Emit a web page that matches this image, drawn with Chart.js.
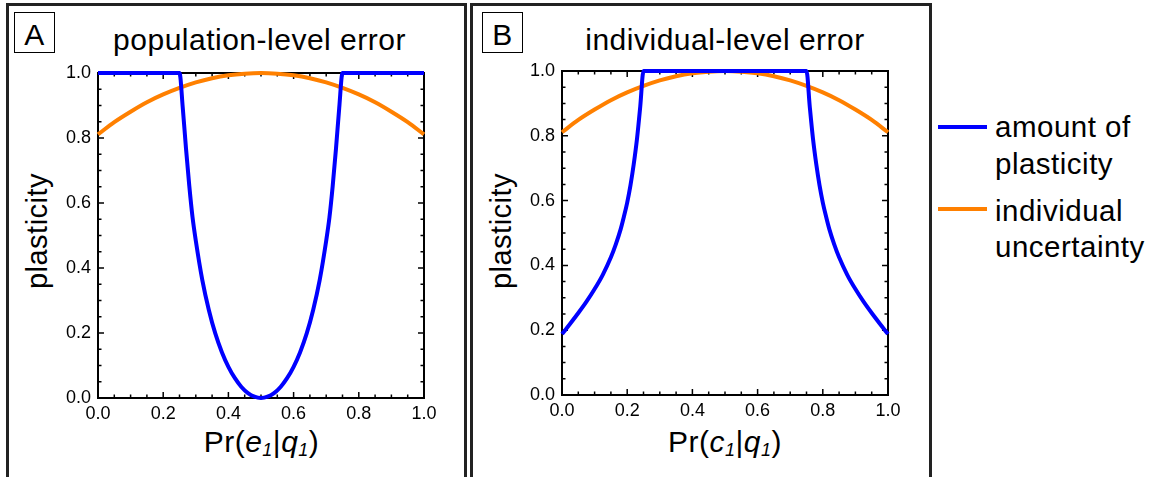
<!DOCTYPE html>
<html>
<head>
<meta charset="utf-8">
<script src="https://cdn.jsdelivr.net/npm/chart.js@4/dist/chart.umd.min.js"></script>
<style>
  body { margin: 0; background: #fff; width: 1158px; height: 477px; overflow: hidden; position: relative;
         font-family: "Liberation Sans", Arial, Helvetica, sans-serif; color: #000; }
  .panel { position: absolute; top: 3px; height: 520px; border: 3px solid #222; box-sizing: border-box; }
  .letter { position: absolute; top: 12px; width: 41px; height: 41px; border: 1.5px solid #000; box-sizing: border-box; }
  .txt { position: absolute; white-space: nowrap; line-height: 1; letter-spacing: 0.5px; }
  .ctr { transform: translateX(-50%); }
  .rot { transform: translate(-50%, -50%) rotate(-90deg); }
  .sub { font-size: 18px; position: relative; top: 4px; font-style: italic; }
  .swatch { position: absolute; left: 938px; width: 49px; height: 4px; }
  canvas { position: absolute; }
</style>
</head>
<body>
<div class="panel" style="left:6px; width:461px;"></div>
<div class="panel" style="left:470px; width:462px;"></div>
<div class="letter" style="left:14px;"></div>
<div class="letter" style="left:482px;"></div>
<div class="txt ctr" style="left:34.5px; top:19.6px; font-size:30px;">A</div>
<div class="txt ctr" style="left:502.5px; top:19.6px; font-size:30px;">B</div>
<div class="txt ctr" style="left:259.5px; top:24.6px; font-size:30px;">population-level error</div>
<div class="txt ctr" style="left:725px; top:24.6px; font-size:30px;">individual-level error</div>
<div class="txt rot" style="left:36.7px; top:231px; font-size:29px;">plasticity</div>
<div class="txt rot" style="left:500.7px; top:231px; font-size:29px;">plasticity</div>
<div class="txt ctr" style="left:261.5px; top:427.3px; font-size:30px;">Pr(<i>e</i><span class="sub">1</span>|<i>q</i><span class="sub">1</span>)</div>
<div class="txt ctr" style="left:725px; top:427.3px; font-size:30px;">Pr(<i>c</i><span class="sub">1</span>|<i>q</i><span class="sub">1</span>)</div>

<div class="swatch" style="top:125.3px; background:rgb(0,0,255);"></div>
<div class="swatch" style="top:207.3px; background:rgb(255,128,0);"></div>
<div class="txt" style="left:995px; top:111.8px; font-size:29.5px;">amount of</div>
<div class="txt" style="left:995px; top:148.8px; font-size:29.5px;">plasticity</div>
<div class="txt" style="left:995px; top:195.5px; font-size:29.5px;">individual</div>
<div class="txt" style="left:995px; top:232.2px; font-size:29.5px;">uncertainty</div>

<canvas id="chartA" width="394" height="375" style="left:50px; top:55px;"></canvas>
<canvas id="chartB" width="394" height="374" style="left:514px; top:53px;"></canvas>

<script>
// values
const xGrid = [0, 0.05, 0.1, 0.15, 0.2, 0.25, 0.3, 0.35, 0.4, 0.45, 0.5,
               0.55, 0.6, 0.65, 0.7, 0.75, 0.8, 0.85, 0.9, 0.95, 1.0];
const uncertainty = [0.811, 0.849, 0.881, 0.910, 0.934, 0.954, 0.971, 0.984, 0.993, 0.998, 1.0,
                     0.998, 0.993, 0.984, 0.971, 0.954, 0.934, 0.910, 0.881, 0.849, 0.811];

// panel A: population-level error
const xPopulation = [0, 0.05, 0.1, 0.15, 0.2, 0.25, 0.26, 0.27, 0.28, 0.29, 0.30,
                     0.32, 0.34, 0.36, 0.38, 0.40, 0.42, 0.44, 0.46, 0.48, 0.50,
                     0.52, 0.54, 0.56, 0.58, 0.60, 0.62, 0.64, 0.66, 0.68, 0.70,
                     0.71, 0.72, 0.73, 0.74, 0.75, 0.8, 0.85, 0.9, 0.95, 1.0];
const plasticityPopulation = [1, 1, 1, 1, 1, 1, 0.893, 0.767, 0.653, 0.556, 0.484,
                              0.363, 0.271, 0.198, 0.141, 0.096, 0.061, 0.034, 0.015, 0.004, 0,
                              0.004, 0.015, 0.034, 0.061, 0.096, 0.141, 0.198, 0.271, 0.363, 0.484,
                              0.556, 0.653, 0.767, 0.893, 1, 1, 1, 1, 1, 1];

// panel B: individual-level error
const xIndividual = [0, 0.025, 0.05, 0.075, 0.10, 0.125, 0.15, 0.165, 0.18, 0.19, 0.20,
                     0.21, 0.22, 0.23, 0.24, 0.25, 0.5, 0.75, 0.76, 0.77, 0.78, 0.79,
                     0.80, 0.81, 0.82, 0.835, 0.85, 0.875, 0.90, 0.925, 0.95, 0.975, 1.0];
const plasticityIndividual = [0.188, 0.22, 0.253, 0.288, 0.327, 0.371, 0.425, 0.465, 0.512, 0.551, 0.594,
                              0.647, 0.712, 0.79, 0.89, 1, 1, 1, 0.89, 0.79, 0.712, 0.647,
                              0.594, 0.551, 0.512, 0.465, 0.425, 0.371, 0.327, 0.288, 0.253, 0.22, 0.188];

const majorTicks = [0, 0.2, 0.4, 0.6, 0.8, 1.0];
const minorStep = 0.05;

const BLUE = 'rgb(0, 0, 255)';
const ORANGE = 'rgb(255, 128, 0)';
const tickFont = { family: '"Liberation Sans", Arial, Helvetica, sans-serif', size: 18 };

const toPoints = (xs, ys) => xs.map((x, i) => ({ x: x, y: ys[i] }));

// frame with inward ticks on all four sides, like the original
const framePlugin = {
    id: 'frame',
    beforeDatasetsDraw(chart) {
        const { ctx, chartArea: a, scales: { x, y } } = chart;
        ctx.save();
        ctx.strokeStyle = '#000';
        ctx.lineWidth = 1.5;
        for (let k = 0; k <= Math.round(1 / minorStep); k++) {
            const v = k * minorStep;
            const len = majorTicks.some(m => Math.abs(m - v) < 1e-9) ? 6 : 3.5;
            const px = x.getPixelForValue(v);
            const py = y.getPixelForValue(v);
            ctx.beginPath();
            ctx.moveTo(px, a.bottom); ctx.lineTo(px, a.bottom - len);
            ctx.moveTo(px, a.top); ctx.lineTo(px, a.top + len);
            ctx.moveTo(a.left, py); ctx.lineTo(a.left + len, py);
            ctx.moveTo(a.right, py); ctx.lineTo(a.right - len, py);
            ctx.stroke();
        }
        ctx.lineWidth = 2;
        ctx.strokeRect(a.left, a.top, a.right - a.left, a.bottom - a.top);
        ctx.restore();
    }
};

const makeChart = (id, xs, plasticity) => {
    const ctx = document.getElementById(id).getContext('2d');
    return new Chart(ctx, {
        type: 'line',
        data: {
            datasets: [{
                label: 'amount of plasticity',
                data: toPoints(xs, plasticity),
                borderColor: BLUE,
                borderWidth: 4,
                pointRadius: 0,
                cubicInterpolationMode: 'monotone',
                clip: 6,
            }, {
                label: 'individual uncertainty',
                data: toPoints(xGrid, uncertainty),
                borderColor: ORANGE,
                borderWidth: 4,
                pointRadius: 0,
                cubicInterpolationMode: 'monotone',
                clip: 6,
            }]
        },
        options: {
            responsive: false,
            animation: false,
            events: [],
            layout: { padding: { top: 18, right: 20, left: 0, bottom: 0 } },
            plugins: { legend: { display: false }, tooltip: { enabled: false } },
            scales: {
                x: {
                    type: 'linear',
                    min: 0,
                    max: 1,
                    grid: { display: false, drawTicks: false },
                    border: { display: false },
                    ticks: {
                        stepSize: 0.2,
                        autoSkip: false,
                        maxRotation: 0,
                        padding: 5,
                        color: '#000',
                        font: tickFont,
                        callback: v => v.toFixed(1)
                    },
                    afterFit: s => { s.height = 32; }
                },
                y: {
                    min: 0,
                    max: 1,
                    grid: { display: false, drawTicks: false },
                    border: { display: false },
                    ticks: {
                        stepSize: 0.2,
                        padding: 7,
                        color: '#000',
                        font: tickFont,
                        callback: v => v.toFixed(1)
                    },
                    afterFit: s => { s.width = 48; }
                }
            }
        },
        plugins: [framePlugin]
    });
};

makeChart('chartA', xPopulation, plasticityPopulation);
makeChart('chartB', xIndividual, plasticityIndividual);
</script>
</body>
</html>
